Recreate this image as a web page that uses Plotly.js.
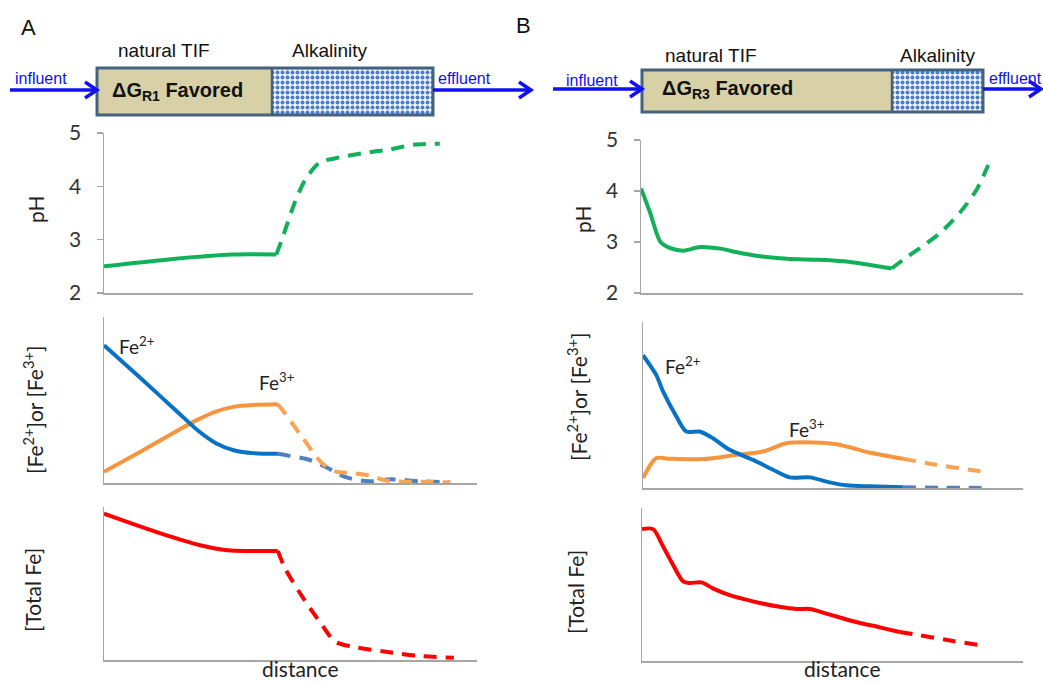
<!DOCTYPE html>
<html>
<head>
<meta charset="utf-8">
<script src="https://cdn.plot.ly/plotly-3.0.1.min.js"></script>
<style>html,body{margin:0;padding:0;background:#fff;}#chart{width:1043px;height:683px;}</style>
</head>
<body>
<div id="chart"></div>
<script>
// ---------- data ----------
// Panel A
const xA_pH_solid = [0, 16.8, 34.9, 46.7];
const pHA_solid   = [2.5, 2.625, 2.72, 2.72];
const xA_pH_dash  = [46.7, 48.5, 51.6, 54.6, 58.4, 64.3, 72, 77.4, 83.8, 91];
const pHA_dash    = [2.72, 3.06, 3.68, 4.13, 4.44, 4.55, 4.64, 4.69, 4.78, 4.8];

const xA_fe2_solid = [0, 10, 20, 25.5, 30, 35, 40, 46.6];
const feA2_solid   = [0.83, 0.628, 0.422, 0.31, 0.24, 0.196, 0.18, 0.176];
const xA_fe2_dash  = [46.6, 49.4, 55, 60, 64.8, 71.1, 77, 84.7, 92.8];
const feA2_dash    = [0.176, 0.165, 0.14, 0.09, 0.035, 0.01, 0.022, 0.01, 0.004];

const xA_fe3_solid = [0, 10, 20, 25, 30, 35, 40, 46.6];
const feA3_solid   = [0.068, 0.192, 0.32, 0.38, 0.43, 0.46, 0.47, 0.474];
const xA_fe3_dash  = [46.6, 48.5, 53, 58.4, 62, 66.6, 71.1, 75.6, 80.2, 84.7, 92.8];
const feA3_dash    = [0.474, 0.42, 0.28, 0.12, 0.07, 0.06, 0.045, 0.015, 0.008, 0.008, 0.004];

const xA_tot_solid = [0, 7.7, 16.8, 25.8, 33.1, 39.4, 46.6];
const totA_solid   = [0.957, 0.89, 0.815, 0.75, 0.717, 0.713, 0.713];
const xA_tot_dash  = [46.6, 48.5, 53, 58.4, 62, 66.6, 75.6, 84.7, 93.8];
const totA_dash    = [0.713, 0.6, 0.42, 0.23, 0.12, 0.087, 0.054, 0.026, 0.015];

// Panel B
const xB_pH_solid = [0, 2.4, 5.1, 7.7, 11.1, 15.5, 20.7, 25.1, 31.2, 38.2, 46.9, 55.6, 60.8, 65.6];
const pHB_solid   = [4.05, 3.57, 3.0, 2.88, 2.83, 2.9, 2.87, 2.8, 2.72, 2.67, 2.65, 2.6, 2.54, 2.48];
const xB_pH_dash  = [65.6, 68.6, 73, 78.2, 83.4, 87.8, 90.9];
const pHB_dash    = [2.48, 2.65, 2.88, 3.17, 3.57, 4.02, 4.51];

const xB_fe2_solid = [0, 3.5, 5.3, 8.8, 11.4, 14.9, 18.4, 22.8, 28.9, 34.2, 38.6, 43.9, 49.1, 53.5, 59.6, 68.4];
const feB2_solid   = [0.8, 0.68, 0.58, 0.43, 0.34, 0.34, 0.30, 0.23, 0.17, 0.11, 0.064, 0.064, 0.034, 0.016, 0.01, 0.004];
const xB_fe2_dash  = [68.4, 79, 90.4];
const feB2_dash    = [0.004, 0.002, 0.0];

const xB_fe3_solid = [0, 3.5, 7, 15.8, 24.6, 31.6, 37.7, 42.1, 50.9, 59.6, 68.4];
const feB3_solid   = [0.06, 0.18, 0.176, 0.174, 0.2, 0.22, 0.27, 0.276, 0.264, 0.214, 0.176];
const xB_fe3_dash  = [68.4, 77.2, 90.8];
const feB3_dash    = [0.176, 0.14, 0.094];

const xB_tot_solid = [0, 2.9, 5.5, 8.1, 10.8, 12.5, 15.6, 18.6, 23, 29.1, 36.1, 40.5, 44, 48.4, 55.4, 62.4, 67.6];
const totB_solid   = [0.862, 0.862, 0.75, 0.63, 0.52, 0.51, 0.514, 0.475, 0.43, 0.39, 0.354, 0.34, 0.34, 0.31, 0.26, 0.22, 0.19];
const xB_tot_dash  = [67.6, 72.9, 81.6, 90.4];
const totB_dash    = [0.19, 0.168, 0.131, 0.098];

const pHTicks = [2, 3, 4, 5];

// ---------- styles ----------
const W = 1043, H = 683;
const GREEN = '#12b058', BLUE = '#0a72c4', BLUE_D = '#4f80c2', ORANGE = '#f7943e', ORANGE_D = '#f8a455', RED = '#ff0000';
const LW = 4, DASH = '13px,9px';
const CF = 'Lato, "Open Sans", sans-serif';
const HF = '"Liberation Sans", Arial, sans-serif';
const AXC = '#a6a6a6';

function ln(x, y, xa, ya, color, dashed) {
  return {x: x, y: y, xaxis: xa, yaxis: ya, type: 'scatter', mode: 'lines',
    line: {color: color, width: LW, shape: 'spline', smoothing: 0.8, dash: dashed ? DASH : 'solid'},
    hoverinfo: 'skip', showlegend: false};
}

const traces = [
  ln(xA_pH_solid, pHA_solid, 'x', 'y', GREEN, false),
  ln(xA_pH_dash, pHA_dash, 'x', 'y', GREEN, true),
  ln(xA_fe2_dash, feA2_dash, 'x2', 'y2', BLUE_D, true),
  ln(xA_fe3_dash, feA3_dash, 'x2', 'y2', ORANGE_D, true),
  ln(xA_fe3_solid, feA3_solid, 'x2', 'y2', ORANGE, false),
  ln(xA_fe2_solid, feA2_solid, 'x2', 'y2', BLUE, false),
  ln(xA_tot_solid, totA_solid, 'x3', 'y3', RED, false),
  ln(xA_tot_dash, totA_dash, 'x3', 'y3', RED, true),
  ln(xB_pH_solid, pHB_solid, 'x4', 'y4', GREEN, false),
  ln(xB_pH_dash, pHB_dash, 'x4', 'y4', GREEN, true),
  ln(xB_fe2_dash, feB2_dash, 'x5', 'y5', BLUE_D, true),
  ln(xB_fe3_dash, feB3_dash, 'x5', 'y5', ORANGE_D, true),
  ln(xB_fe3_solid, feB3_solid, 'x5', 'y5', ORANGE, false),
  ln(xB_fe2_solid, feB2_solid, 'x5', 'y5', BLUE, false),
  ln(xB_tot_solid, totB_solid, 'x6', 'y6', RED, false),
  ln(xB_tot_dash, totB_dash, 'x6', 'y6', RED, true)
];

// header geometry (pixel units on the overlay axes)
const boxA = {x0: 97, x1: 433, y0: 68, y1: 115, split: 272};
const boxB = {x0: 642, x1: 983, y0: 70, y1: 112, split: 892};

function patternRect(b) {
  return {x: [b.split, b.x1, b.x1, b.split, b.split], y: [b.y0, b.y0, b.y1, b.y1, b.y0],
    xaxis: 'x7', yaxis: 'y7', type: 'scatter', mode: 'lines', fill: 'toself',
    fillcolor: '#ffffff', line: {width: 0},
    fillpattern: {shape: '.', fgcolor: '#4a7ccb', bgcolor: '#f2f5fb', size: 5, solidity: 0.5},
    hoverinfo: 'skip', showlegend: false};
}
traces.push(patternRect(boxA), patternRect(boxB));

const px = v => v / W, py = v => 1 - v / H;

function xa(d0, d1, anchor) {
  return {domain: [px(d0), px(d1)], range: [0, 100], anchor: anchor, showline: true, linecolor: AXC, linewidth: 1.5,
    showgrid: false, zeroline: false, showticklabels: false, ticks: '', fixedrange: true};
}
function ya(d0, d1, anchor, ph) {
  const o = {domain: [py(d1), py(d0)], anchor: anchor, showline: true, linecolor: AXC, linewidth: 1.5,
    showgrid: false, zeroline: false, fixedrange: true};
  if (ph) {
    Object.assign(o, {range: [2, 5], tickvals: pHTicks, ticks: 'outside', ticklen: 6, tickcolor: AXC, tickwidth: 1.2,
      ticklabelstandoff: 11, tickfont: {family: CF, size: 21, color: '#333'}});
  } else {
    Object.assign(o, {range: [0, 1], showticklabels: false, ticks: ''});
  }
  return o;
}

function shp(o) { return Object.assign({xref: 'x7', yref: 'y7', layer: 'above'}, o); }
const ARROW = '#1010f0';
function arrow(x0, x1, y) {
  return [
    shp({type: 'line', x0: x0, x1: x1 - 2, y0: y, y1: y, line: {color: ARROW, width: 3.5}}),
    shp({type: 'path', path: `M${x1 - 12},${y - 8} L${x1},${y} L${x1 - 12},${y + 8}`, line: {color: ARROW, width: 3.5}})
  ];
}
function box(b) {
  return [
    shp({type: 'rect', x0: b.x0, x1: b.split, y0: b.y0, y1: b.y1, fillcolor: '#d8d0a6', line: {width: 0}}),
    shp({type: 'rect', x0: b.x0, x1: b.x1, y0: b.y0, y1: b.y1, line: {color: '#44627f', width: 3}}),
    shp({type: 'line', x0: b.split, x1: b.split, y0: b.y0, y1: b.y1, line: {color: '#44627f', width: 2.5}})
  ];
}

const shapes = [].concat(box(boxA), box(boxB), arrow(10, 97, 90), arrow(433, 531, 90), arrow(553, 642, 89), arrow(983, 1041, 89));

function ann(text, x, y, o) {
  return Object.assign({text: text, x: x, y: y, xref: 'x7', yref: 'y7', showarrow: false,
    xanchor: 'center', yanchor: 'middle', font: {family: HF, size: 19, color: '#111'}}, o || {});
}
function dAnn(text, x, y, xr, yr) {
  return {text: text, x: x, y: y, xref: xr, yref: yr, showarrow: false, xanchor: 'left', yanchor: 'middle',
    font: {family: CF, size: 19, color: '#222'}};
}
function yt(text, x, y) {
  return ann(text, x, y, {textangle: -90, font: {family: CF, size: 21, color: '#222'}});
}

const annotations = [
  ann('A', 28, 27, {font: {family: HF, size: 22, color: '#111'}}),
  ann('B', 523, 25, {font: {family: HF, size: 22, color: '#111'}}),
  ann('natural TIF', 164, 50),
  ann('Alkalinity', 329, 50),
  ann('natural TIF', 711, 55),
  ann('Alkalinity', 937, 55),
  ann('influent', 41, 78, {font: {family: HF, size: 16, color: ARROW}}),
  ann('effluent', 464, 78, {font: {family: HF, size: 16, color: ARROW}}),
  ann('influent', 592, 80, {font: {family: HF, size: 16, color: ARROW}}),
  ann('effluent', 987, 78, {xanchor: 'left', font: {family: HF, size: 16, color: ARROW}}),
  ann('<b>ΔG<sub>R1</sub> Favored</b>', 110, 91, {xanchor: 'left', font: {family: HF, size: 20, color: '#111'}}),
  ann('<b>ΔG<sub>R3</sub> Favored</b>', 660, 89, {xanchor: 'left', font: {family: HF, size: 20, color: '#111'}}),
  yt('pH', 35, 209),
  yt('[Fe<sup>2+</sup>]or [Fe<sup>3+</sup>]', 33, 410),
  yt('[Total Fe]', 32, 590),
  yt('pH', 582, 219),
  yt('[Fe<sup>2+</sup>]or [Fe<sup>3+</sup>]', 577, 397),
  yt('[Total Fe]', 575, 592),
  ann('distance', 300, 668, {font: {family: CF, size: 21, color: '#222'}}),
  ann('distance', 842, 668, {font: {family: CF, size: 21, color: '#222'}}),
  dAnn('Fe<sup>2+</sup>', 3.5, 0.83, 'x2', 'y2'),
  dAnn('Fe<sup>3+</sup>', 41, 0.61, 'x2', 'y2'),
  dAnn('Fe<sup>2+</sup>', 5.3, 0.74, 'x5', 'y5'),
  dAnn('Fe<sup>3+</sup>', 37.9, 0.36, 'x5', 'y5')
];

const layout = {
  width: W, height: H, margin: {l: 0, r: 0, t: 0, b: 0},
  paper_bgcolor: '#fff', plot_bgcolor: 'rgba(0,0,0,0)', showlegend: false,
  xaxis: xa(104, 473, 'y'),   yaxis: ya(133, 293, 'x', true),
  xaxis2: xa(104, 477, 'y2'), yaxis2: ya(317, 483, 'x2', false),
  xaxis3: xa(104, 477, 'y3'), yaxis3: ya(507, 660, 'x3', false),
  xaxis4: xa(641, 1023, 'y4'), yaxis4: ya(140, 293, 'x4', true),
  xaxis5: xa(643, 1023, 'y5'), yaxis5: ya(322, 488, 'x5', false),
  xaxis6: xa(642, 1023, 'y6'), yaxis6: ya(508, 661, 'x6', false),
  xaxis7: {domain: [0, 1], range: [0, W], anchor: 'y7', visible: false, fixedrange: true},
  yaxis7: {domain: [0, 1], range: [H, 0], anchor: 'x7', visible: false, fixedrange: true},
  shapes: shapes, annotations: annotations
};

Plotly.newPlot('chart', traces, layout, {displayModeBar: false, staticPlot: true});
</script>
</body>
</html>
